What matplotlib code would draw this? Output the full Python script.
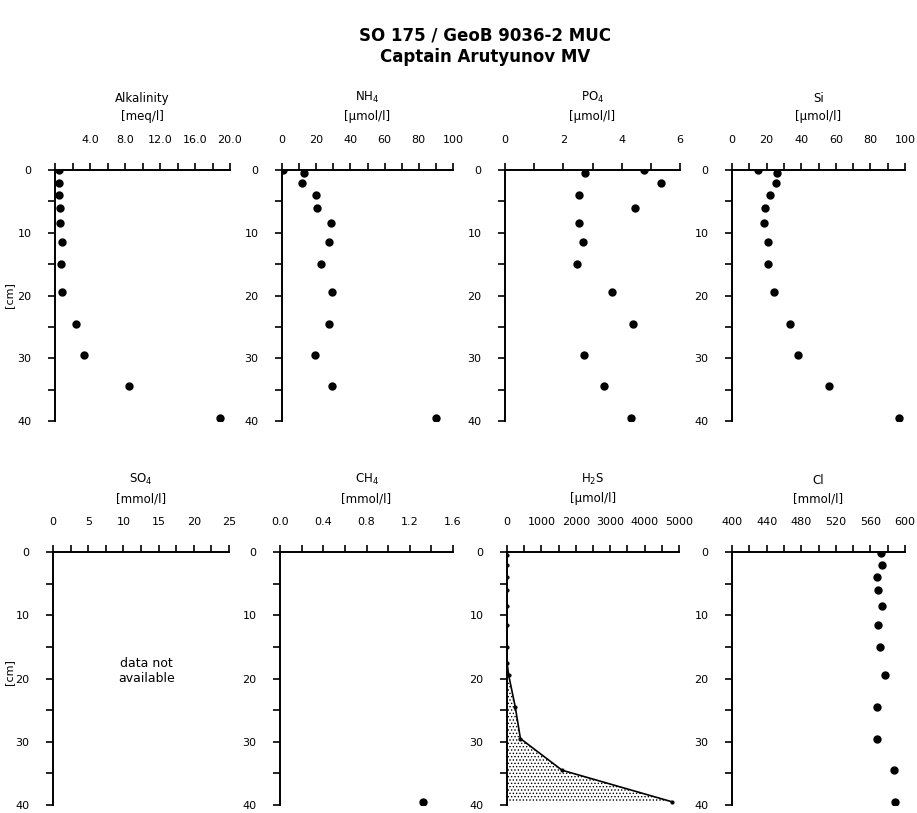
import matplotlib
matplotlib.use("Agg")
import matplotlib.pyplot as plt
from matplotlib.ticker import FixedLocator, FixedFormatter

plt.rcParams['font.family'] = ['DejaVu Sans']
plt.rcParams['mathtext.default'] = 'regular'
plt.rcParams['hatch.linewidth'] = 0.6

# depth [cm]
depth_alk = [0, 2, 4, 6, 8.5, 11.5, 15, 19.5, 24.5, 29.5, 34.5, 39.5]
alkalinity = [0.5, 0.5, 0.5, 0.6, 0.6, 0.8, 0.65, 0.8, 2.4, 3.3, 8.5, 18.9]

depth_nut = [0, 0.5, 2, 4, 6, 8.5, 11.5, 15, 19.5, 24.5, 29.5, 34.5, 39.5]
nh4 = [0.6, 12.6, 11.8, 19.6, 20.4, 28.5, 27.2, 22.9, 29.1, 27.4, 19.1, 29.1, 89.9]
depth_po4 = [0.5, 0, 2, 4, 6, 8.5, 11.5, 15, 19.5, 24.5, 29.5, 34.5, 39.5]
po4 = [2.74, 4.77, 5.35, 2.55, 4.46, 2.55, 2.66, 2.48, 3.66, 4.38, 2.71, 3.39, 4.31]
si = [14.8, 26.0, 25.6, 22.1, 18.8, 18.3, 20.6, 20.6, 24.0, 33.3, 37.9, 56.0, 96.3]

depth_ch4 = [39.5]
ch4 = [1.32]

depth_h2s = [0.5, 2, 4, 6, 8.5, 11.5, 15, 17.5, 19.5, 24.5, 29.5, 34.5, 39.5]
h2s = [0, 0, 0, 0, 0, 0, 0, 0, 50, 240, 390, 1600, 4800]

depth_cl = [0.2, 2, 4, 6, 8.5, 11.5, 15, 19.5, 24.5, 29.5, 34.5, 39.5]
cl = [571.9, 573.8, 568.0, 568.5, 573.8, 569.0, 571.0, 576.9, 568.0, 568.0, 587.0, 588.0]

fig = plt.figure(figsize=(9.17, 8.13), dpi=100)
W, H = 917, 813


def make_ax(x0, x1, y0, y1, title, xlim, ticks, labels):
    ax = fig.add_axes([x0 / W, 1 - y1 / H, (x1 - x0) / W, (y1 - y0) / H])
    ax.set_xlim(*xlim)
    ax.set_ylim(40, 0)
    for s in ['right', 'bottom']:
        ax.spines[s].set_visible(False)
    for s in ['left', 'top']:
        ax.spines[s].set_linewidth(1.4)
    ax.xaxis.set_ticks_position('top')
    ax.xaxis.set_major_locator(FixedLocator(ticks))
    ax.xaxis.set_major_formatter(FixedFormatter(labels))
    ax.set_yticks([0, 10, 20, 30, 40])
    ax.set_yticks([5, 15, 25, 35], minor=True)
    ax.tick_params(which='both', direction='out', length=5, width=1.2,
                   labelsize=8)
    ax.tick_params(axis='x', pad=13)
    ax.tick_params(axis='y', pad=12)
    ax.set_title(title, fontsize=8.5, pad=36, linespacing=1.5)
    return ax


def ticks_labels(lo, hi, step, lab_step, fmt, skip_zero=False):
    n = int(round((hi - lo) / step))
    t = [lo + i * step for i in range(n + 1)]
    labs = []
    for v in t:
        k = (v - lo) / lab_step
        if abs(k - round(k)) < 1e-6 and not (skip_zero and v == lo):
            labs.append(fmt.format(v))
        else:
            labs.append('')
    return t, labs


ms = 5

t, l = ticks_labels(0, 20, 2, 4, '{:.1f}', skip_zero=True)
ax = make_ax(55, 230, 170, 421, 'Alkalinity\n[meq/l]', (0, 20), t, l)
ax.plot(alkalinity, depth_alk, 'o', color='black', ms=ms)

t, l = ticks_labels(0, 100, 10, 20, '{:.0f}')
ax = make_ax(282, 453, 170, 421, 'NH$_4$\n[µmol/l]', (0, 100), t, l)
ax.plot(nh4, depth_nut, 'o', color='black', ms=ms)

t, l = ticks_labels(0, 6, 1, 2, '{:.0f}')
ax = make_ax(505, 680, 170, 421, 'PO$_4$\n[µmol/l]', (0, 6), t, l)
ax.plot(po4, depth_po4, 'o', color='black', ms=ms)

t, l = ticks_labels(0, 100, 10, 20, '{:.0f}')
ax = make_ax(732, 905, 170, 421, 'Si\n[µmol/l]', (0, 100), t, l)
ax.plot(si, depth_nut, 'o', color='black', ms=ms)

t, l = ticks_labels(0, 25, 2.5, 5, '{:.0f}')
ax = make_ax(53, 229, 552, 805, 'SO$_4$\n[mmol/l]', (0, 25), t, l)
ax.text(0.53, 0.53, 'data not\navailable', transform=ax.transAxes,
        ha='center', va='center', fontsize=9)

t, l = ticks_labels(0, 1.6, 0.2, 0.4, '{:.1f}')
ax = make_ax(280, 453, 552, 805, 'CH$_4$\n[mmol/l]', (0, 1.6), t, l)
ax.plot(ch4, depth_ch4, 'o', color='black', ms=ms)

t, l = ticks_labels(0, 5000, 500, 1000, '{:.0f}')
ax = make_ax(507, 679, 552, 805, 'H$_2$S\n[µmol/l]', (0, 5000), t, l)
ax.fill_betweenx(depth_h2s, 0, h2s, facecolor='white', edgecolor='black',
                 hatch='.....', linewidth=0)
ax.plot(h2s, depth_h2s, '-o', color='black', lw=1.2, ms=2)

t, l = ticks_labels(400, 600, 20, 40, '{:.0f}')
ax = make_ax(732, 905, 552, 805, 'Cl\n[mmol/l]', (400, 600), t, l)
ax.plot(cl, depth_cl, 'o', color='black', ms=ms)

fig.text(9 / W, 1 - 295 / H, '[cm]', rotation=90, ha='center', va='center',
         fontsize=8)
fig.text(9 / W, 1 - 672 / H, '[cm]', rotation=90, ha='center', va='center',
         fontsize=8)

fig.text(485 / W, 1 - 35 / H, 'SO 175 / GeoB 9036-2 MUC', ha='center',
         va='center', fontsize=12, fontweight='bold')
fig.text(485 / W, 1 - 57 / H, 'Captain Arutyunov MV', ha='center',
         va='center', fontsize=12, fontweight='bold')

fig.savefig('out.png', dpi=100)
